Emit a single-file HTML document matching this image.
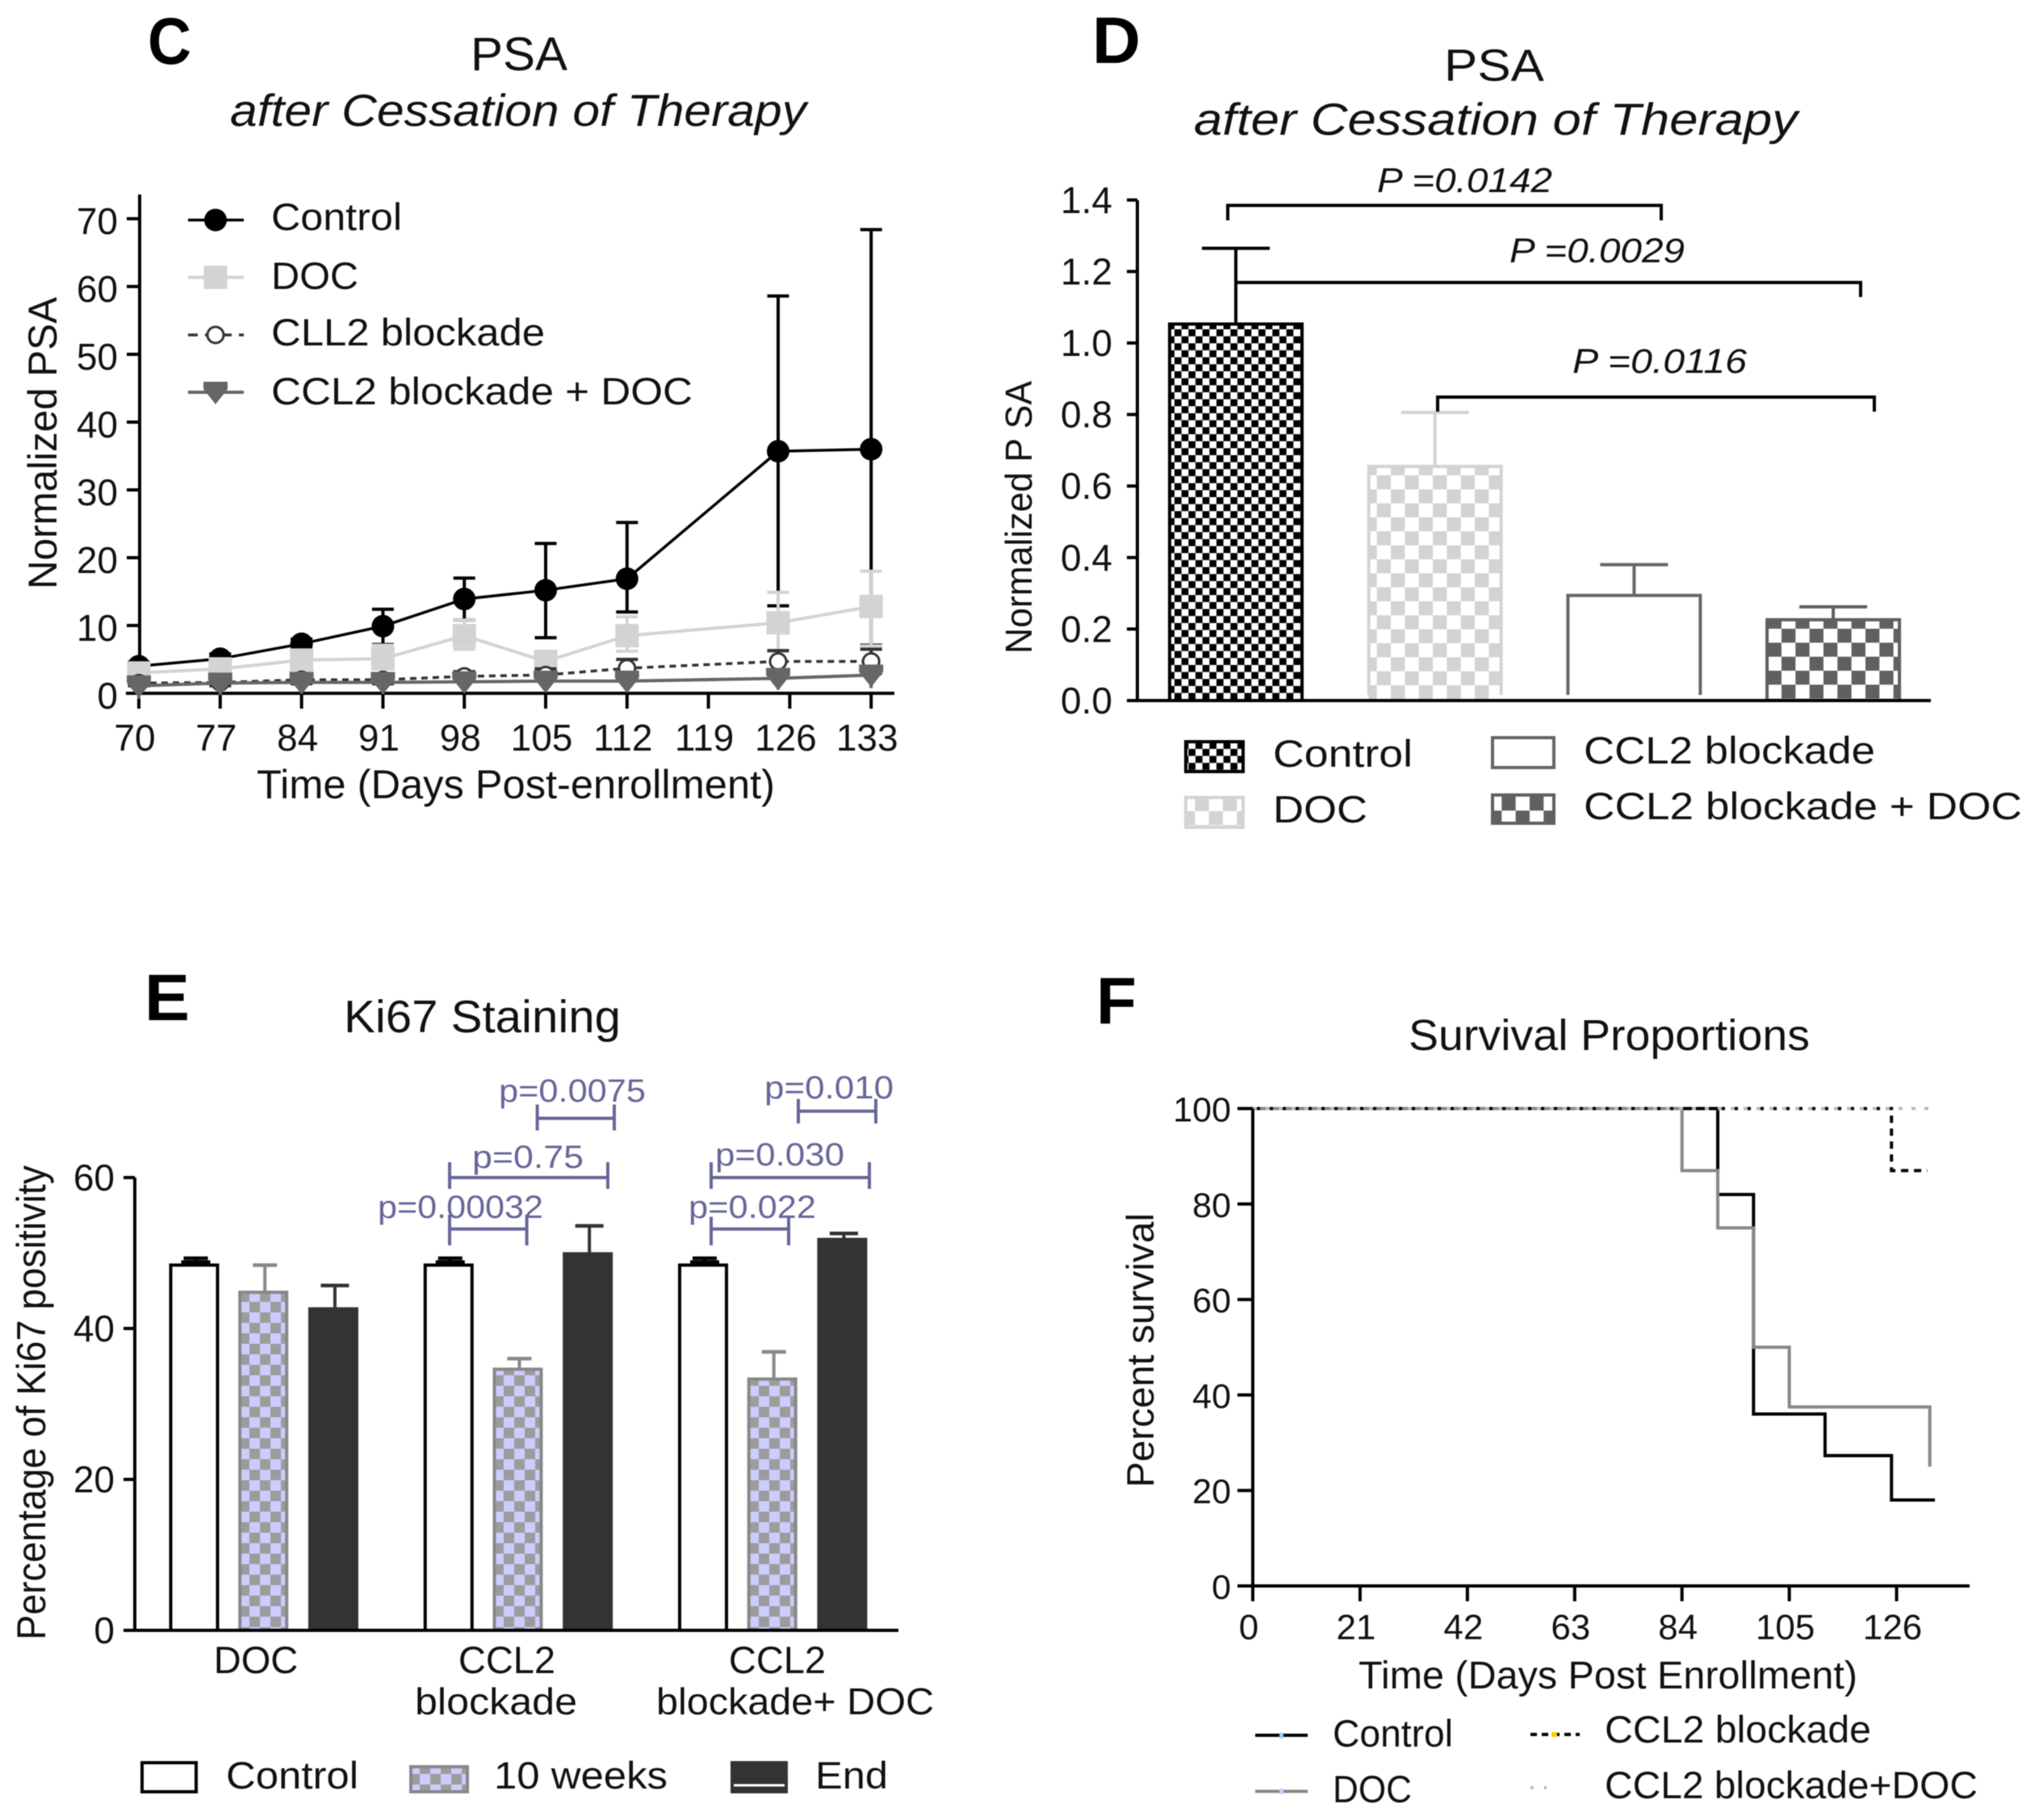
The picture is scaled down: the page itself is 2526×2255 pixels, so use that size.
<!DOCTYPE html>
<html lang="en">
<head>
<meta charset="utf-8">
<title>PSA, Ki67 and survival panels</title>
<style>
html,body{margin:0;padding:0;background:#fff;width:2526px;height:2255px;overflow:hidden}
svg{display:block;filter:blur(0.6px)}
text{font-family:"Liberation Sans",sans-serif;fill:#111}
.b{font-weight:bold;fill:#000}
.i{font-style:italic}
.p{fill:#666699}
</style>
</head>
<body>
<svg id="fig" xmlns="http://www.w3.org/2000/svg" width="2526" height="2255" viewBox="0 0 2526 2255">
<defs>
<pattern id="patCtl" patternUnits="userSpaceOnUse" x="1455" y="408" width="17.33" height="17.33"><rect width="17.33" height="17.33" fill="#fff"/><rect width="8.67" height="8.67" fill="#000"/><rect x="8.67" y="8.67" width="8.67" height="8.67" fill="#000"/></pattern>
<pattern id="patDoc" patternUnits="userSpaceOnUse" x="1705.7" y="589" width="34.67" height="34.67"><rect width="34.67" height="34.67" fill="#fff"/><rect width="17.33" height="17.33" fill="#d3d3d3"/><rect x="17.33" y="17.33" width="17.33" height="17.33" fill="#d3d3d3"/></pattern>
<pattern id="patCombo" patternUnits="userSpaceOnUse" x="2207" y="779" width="34.67" height="34.67"><rect width="34.67" height="34.67" fill="#fff"/><rect width="17.33" height="17.33" fill="#606060"/><rect x="17.33" y="17.33" width="17.33" height="17.33" fill="#606060"/></pattern>
<pattern id="patW0" patternUnits="userSpaceOnUse" x="309" y="1717" width="26" height="26"><rect width="26" height="26" fill="#ccccff"/><rect width="13" height="13" fill="#9c9c9c"/><rect x="13" y="13" width="13" height="13" fill="#9c9c9c"/></pattern>
<pattern id="patW1" patternUnits="userSpaceOnUse" x="624" y="1717" width="26" height="26"><rect width="26" height="26" fill="#ccccff"/><rect width="13" height="13" fill="#9c9c9c"/><rect x="13" y="13" width="13" height="13" fill="#9c9c9c"/></pattern>
<pattern id="patW2" patternUnits="userSpaceOnUse" x="940" y="1717" width="26" height="26"><rect width="26" height="26" fill="#ccccff"/><rect width="13" height="13" fill="#9c9c9c"/><rect x="13" y="13" width="13" height="13" fill="#9c9c9c"/></pattern>
</defs>

<!-- Panel C static text -->
<text class="b" x="183" y="79" font-size="82" textLength="54" lengthAdjust="spacingAndGlyphs">C</text>
<text x="583" y="87" font-size="58" textLength="120" lengthAdjust="spacingAndGlyphs">PSA</text>
<text class="i" x="285" y="156" font-size="56" textLength="714" lengthAdjust="spacingAndGlyphs">after Cessation of Therapy</text>
<text transform="translate(70,730) rotate(-90)" font-size="50" textLength="362" lengthAdjust="spacingAndGlyphs">Normalized PSA</text>
<text x="318" y="989" font-size="50" textLength="642" lengthAdjust="spacingAndGlyphs">Time (Days Post-enrollment)</text>
<text x="336" y="285" font-size="47" textLength="162" lengthAdjust="spacingAndGlyphs">Control</text>
<text x="336" y="358" font-size="47" textLength="108" lengthAdjust="spacingAndGlyphs">DOC</text>
<text x="336" y="428" font-size="47" textLength="339" lengthAdjust="spacingAndGlyphs">CLL2 blockade</text>
<text x="336" y="501" font-size="47" textLength="522" lengthAdjust="spacingAndGlyphs">CCL2 blockade + DOC</text>

<!-- Panel D static text -->
<text class="b" x="1353" y="78" font-size="82" textLength="60" lengthAdjust="spacingAndGlyphs">D</text>
<text x="1789" y="100" font-size="56" textLength="124" lengthAdjust="spacingAndGlyphs">PSA</text>
<text class="i" x="1479" y="167" font-size="56" textLength="748" lengthAdjust="spacingAndGlyphs">after Cessation of Therapy</text>
<text transform="translate(1278,810) rotate(-90)" font-size="46" textLength="338" lengthAdjust="spacingAndGlyphs">Normalized P SA</text>
<text class="i" x="1706" y="238" font-size="43" textLength="217" lengthAdjust="spacingAndGlyphs">P =0.0142</text>
<text class="i" x="1870" y="325" font-size="43" textLength="217" lengthAdjust="spacingAndGlyphs">P =0.0029</text>
<text class="i" x="1948" y="462" font-size="43" textLength="216" lengthAdjust="spacingAndGlyphs">P =0.0116</text>
<text x="1577" y="950" font-size="47" textLength="173" lengthAdjust="spacingAndGlyphs">Control</text>
<text x="1577" y="1019" font-size="47" textLength="117" lengthAdjust="spacingAndGlyphs">DOC</text>
<text x="1962" y="946" font-size="47" textLength="361" lengthAdjust="spacingAndGlyphs">CCL2 blockade</text>
<text x="1962" y="1015" font-size="47" textLength="543" lengthAdjust="spacingAndGlyphs">CCL2 blockade + DOC</text>

<!-- Panel E static text -->
<text class="b" x="179" y="1264" font-size="82" textLength="56" lengthAdjust="spacingAndGlyphs">E</text>
<text x="426" y="1279" font-size="57" textLength="343" lengthAdjust="spacingAndGlyphs">Ki67 Staining</text>
<text transform="translate(56,2032) rotate(-90)" font-size="50" textLength="588" lengthAdjust="spacingAndGlyphs">Percentage of Ki67 positivity</text>
<text x="280" y="2216" font-size="47" textLength="164" lengthAdjust="spacingAndGlyphs">Control</text>
<text x="612" y="2216" font-size="47" textLength="215" lengthAdjust="spacingAndGlyphs">10 weeks</text>
<text x="1010" y="2216" font-size="47" textLength="90" lengthAdjust="spacingAndGlyphs">End</text>

<!-- Panel F static text -->
<text class="b" x="1358" y="1268" font-size="82" textLength="50" lengthAdjust="spacingAndGlyphs">F</text>
<text x="1745" y="1301" font-size="54" textLength="497" lengthAdjust="spacingAndGlyphs">Survival Proportions</text>
<text transform="translate(1429,1843) rotate(-90)" font-size="47" textLength="340" lengthAdjust="spacingAndGlyphs">Percent survival</text>
<text x="1683" y="2092" font-size="48" textLength="618" lengthAdjust="spacingAndGlyphs">Time (Days Post Enrollment)</text>
<text x="1651" y="2164" font-size="47" textLength="149" lengthAdjust="spacingAndGlyphs">Control</text>
<text x="1651" y="2233" font-size="47" textLength="98" lengthAdjust="spacingAndGlyphs">DOC</text>
<text x="1988" y="2159" font-size="47" textLength="330" lengthAdjust="spacingAndGlyphs">CCL2 blockade</text>
<text x="1988" y="2228" font-size="47" textLength="462" lengthAdjust="spacingAndGlyphs">CCL2 blockade+DOC</text>
</svg>

<script>
// ---- Panel C data ----
const cDays = [70, 77, 84, 91, 98, 105, 112, 125, 133];
const cControlMean = [4.0, 5.1, 7.3, 9.9, 13.9, 15.2, 16.9, 35.7, 36.0];
const cControlHigh = [4.6, 5.8, 8.0, 12.4, 17.0, 22.1, 25.2, 58.6, 68.4];
const cControlLow = [3.4, 4.4, 6.6, 7.2, 10.8, 8.2, 12.0, 12.9, 7.1];
const cDocMean = [3.0, 3.6, 4.9, 5.1, 8.5, 4.7, 8.5, 10.4, 12.8];
const cDocHigh = [3.4, 4.2, 5.6, 7.1, 10.8, 5.4, 11.3, 14.9, 18.0];
const cDocLow = [2.6, 3.0, 4.2, 3.6, 6.5, 4.0, 6.2, 6.2, 7.0];
const cBlockMean = [1.5, 1.6, 2.0, 2.0, 2.5, 2.7, 3.7, 4.7, 4.7];
const cBlockHigh = [1.9, 2.1, 2.6, 2.6, 3.2, 3.6, 5.0, 6.3, 6.5];
const cBlockLow = [1.1, 1.1, 1.4, 1.4, 1.8, 1.9, 2.4, 3.1, 2.9];
const cComboMean = [1.1, 1.5, 1.6, 1.6, 1.7, 1.8, 1.8, 2.2, 2.7];
const cComboHigh = [1.4, 1.8, 2.0, 2.0, 2.1, 2.2, 2.3, 2.8, 3.4];
const cComboLow = [-0.6, 0.0, 0.2, 0.1, 0.4, 0.6, 0.7, 0.8, 1.0];
const cXTicks = [70, 77, 84, 91, 98, 105, 112, 119, 126, 133];
const cYTicks = [0, 10, 20, 30, 40, 50, 60, 70];

// ---- Panel D data ----
const dGroups = ['Control', 'DOC', 'CCL2 blockade', 'CCL2 blockade + DOC'];
const dMeans = [1.053, 0.655, 0.294, 0.226];
const dHighs = [1.265, 0.806, 0.380, 0.262];
const dYTicks = ['0.0', '0.2', '0.4', '0.6', '0.8', '1.0', '1.2', '1.4'];

// ---- Panel E data ----
const eTreatments = ['DOC', 'CCL2 blockade', 'CCL2 blockade+DOC'];
const eControlMean = [48.4, 48.4, 48.4];
const eControlHigh = [49.3, 49.3, 49.3];
const eWeeksMean = [44.8, 34.6, 33.3];
const eWeeksHigh = [48.4, 36.0, 36.9];
const eEndMean = [42.6, 49.9, 51.8];
const eEndHigh = [45.7, 53.6, 52.6];
const eYTicks = [0, 20, 40, 60];

// ---- Panel F data ----
const fControlDays = [91, 98, 112, 125, 133.5];
const fControlSurvival = [82, 36, 27.3, 18, 18];
const fDocDays = [84, 91, 98, 105, 132.5];
const fDocSurvival = [87, 75, 50, 37.5, 25];
const fBlockDays = [125, 132];
const fBlockSurvival = [87, 87];
const fComboDays = [133];
const fComboSurvival = [100];
const fXTicks = [0, 21, 42, 63, 84, 105, 126];
const fYTicks = [0, 20, 40, 60, 80, 100];

// ---- axis functions ----
const xC = d => 172 + 14.4 * (d - 70);
const yC = v => 859 - 8.4 * v;
const yD = v => 868 - 443 * v;
const xD = i => 1531 + 246.7 * i;
const yE = v => 2020 - 9.35 * v;
const xE = (g, s) => 240.5 + 315.25 * g + 85.7 * s + (s === 2 ? 1 : 0);
const xF = d => 1552 + 6.33 * d;
const yF = v => 1965 - 5.915 * v;

const svg = document.getElementById('fig');
const NS = 'http://www.w3.org/2000/svg';

function add(tag, attrs, name) {
  const el = document.createElementNS(NS, tag);
  for (const k in attrs) el.setAttribute(k, attrs[k]);
  
  
  svg.appendChild(el);
  return el;
}
function line(x1, y1, x2, y2, color, w, name, dash) {
  const a = { x1: x1, y1: y1, x2: x2, y2: y2, stroke: color, 'stroke-width': w };
  if (dash) a['stroke-dasharray'] = dash;
  return add('line', a, name);
}
function label(str, x, y, size, anchor, name) {
  const t = add('text', { x: x, y: y, 'font-size': size, 'text-anchor': anchor }, name);
  t.textContent = str;
  return t;
}
function polyline(xs, ys, color, w, name, dash) {
  const pts = xs.map((x, i) => x + ',' + ys[i]).join(' ');
  const a = { points: pts, fill: 'none', stroke: color, 'stroke-width': w };
  if (dash) a['stroke-dasharray'] = dash;
  return add('polyline', a, name);
}
function marker(kind, cx, cy, name) {
  if (kind === 'circle') add('circle', { cx: cx, cy: cy, r: 14, fill: '#000' }, name);
  if (kind === 'square') add('rect', { x: cx - 14.5, y: cy - 14.5, width: 29, height: 29, fill: '#d3d3d3' }, name);
  if (kind === 'open') add('circle', { cx: cx, cy: cy, r: 10, fill: '#fff', stroke: '#333', 'stroke-width': 3 }, name);
  if (kind === 'tri') add('polygon', { points: (cx - 15) + ',' + (cy - 13) + ' ' + (cx + 15) + ',' + (cy - 13) + ' ' + (cx + 15) + ',' + (cy - 4) + ' ' + cx + ',' + (cy + 15) + ' ' + (cx - 15) + ',' + (cy - 4), fill: '#666' }, name);
}

// ---- Panel C ----
function drawSeriesC(key, mean, high, low, color, w, kind, dash, capW) {
  cDays.forEach((d, i) => {
    const x = xC(d);
    line(x, yC(high[i]), x, yC(low[i]), color, 4, key + '-error-bar');
    line(x - capW / 2, yC(high[i]), x + capW / 2, yC(high[i]), color, 4, key + '-error-cap');
    line(x - capW / 2, yC(low[i]), x + capW / 2, yC(low[i]), color, 4, key + '-error-cap');
  });
  polyline(cDays.map(xC), mean.map(yC), color, w, key + '-line', dash);
  cDays.forEach((d, i) => marker(kind, xC(d), yC(mean[i]), key + '-point'));
}
line(173, 241, 173, 861, '#000', 4, 'panel-c-y-axis');
line(156, 859, 1108, 859, '#000', 4, 'panel-c-x-axis');
cYTicks.forEach(v => {
  line(157, yC(v), 173, yC(v), '#000', 4, 'panel-c-y-tick');
  label(String(v), 146, yC(v) + 19, 46, 'end', 'panel-c-y-tick-label');
});
cXTicks.forEach(d => {
  line(xC(d), 859, xC(d), 878, '#000', 4, 'panel-c-x-tick');
  label(String(d), xC(d) - 5, 930, 46, 'middle', 'panel-c-x-tick-label');
});
drawSeriesC('control', cControlMean, cControlHigh, cControlLow, '#000', 3.5, 'circle', null, 27);
drawSeriesC('doc', cDocMean, cDocHigh, cDocLow, '#d3d3d3', 4, 'square', null, 27);
drawSeriesC('blockade', cBlockMean, cBlockHigh, cBlockLow, '#333', 3.5, 'open', '8 6', 27);
drawSeriesC('combo', cComboMean, cComboHigh, cComboLow, '#666', 4, 'tri', null, 4);

// legend C
line(233, 272.6, 302, 272.6, '#000', 3.5, 'panel-c-legend-line-control');
marker('circle', 267, 272.6, 'panel-c-legend-marker-control');
line(233, 343.6, 302, 343.6, '#d3d3d3', 4, 'panel-c-legend-line-doc');
marker('square', 267, 343.6, 'panel-c-legend-marker-doc');
line(233, 415, 302, 415, '#333', 3.5, 'panel-c-legend-line-blockade', '12 9');
marker('open', 267, 415, 'panel-c-legend-marker-blockade');
line(233, 486, 302, 486, '#666', 4, 'panel-c-legend-line-combo');
marker('tri', 267, 486, 'panel-c-legend-marker-combo');

// ---- Panel D ----
const dFill = ['url(#patCtl)', 'url(#patDoc)', '#fff', 'url(#patCombo)'];
const dStroke = ['#000', '#d3d3d3', '#666', '#606060'];
dMeans.forEach((m, i) => {
  const c = xD(i), top = yD(m), hw = 82;
  line(c, yD(dHighs[i]), c, top, dStroke[i], 4, 'panel-d-error-bar');
  line(c - 42, yD(dHighs[i]), c + 42, yD(dHighs[i]), dStroke[i], 4, 'panel-d-error-cap');
  add('rect', { x: c - hw, y: top, width: hw * 2, height: yD(0) - top, fill: dFill[i] }, 'panel-d-bar-fill');
  const bottom = i === 2 || i === 1 ? yD(0) - 7 : yD(0);
  add('path', { d: 'M' + (c - hw) + ' ' + bottom + 'V' + top + 'H' + (c + hw) + 'V' + bottom, fill: 'none', stroke: dStroke[i], 'stroke-width': 4 }, 'panel-d-bar-outline');
});
line(1409, 248, 1409, 870, '#000', 4, 'panel-d-y-axis');
line(1396, 868, 2392, 868, '#000', 4, 'panel-d-x-axis');
dYTicks.forEach(s => {
  const v = parseFloat(s);
  line(1396, yD(v), 1409, yD(v), '#000', 4, 'panel-d-y-tick');
  label(s, 1378, yD(v) + 16, 46, 'end', 'panel-d-y-tick-label');
});
// significance brackets D
add('path', { d: 'M1521 273V254.5H2058V273', fill: 'none', stroke: '#000', 'stroke-width': 4 }, 'bracket-control-vs-blockade');
add('path', { d: 'M1531 350H2305V368', fill: 'none', stroke: '#000', 'stroke-width': 4 }, 'bracket-control-vs-combo');
add('path', { d: 'M1781 510V492H2322V510', fill: 'none', stroke: '#000', 'stroke-width': 4 }, 'bracket-doc-vs-combo');
// legend D
const dSwatches = [[1469, 919, 71, 37], [1469, 988, 71, 37], [1849, 914, 76, 37], [1849, 985, 76, 35]];
dSwatches.forEach((s, i) => {
  add('rect', { x: s[0], y: s[1], width: s[2], height: s[3], fill: dFill[i], stroke: dStroke[i], 'stroke-width': 4 }, 'panel-d-legend-swatch');
});

// ---- Panel E ----
function barE(g, s, mean, high, fill, stroke, errColor, capW) {
  const c = xE(g, s), hw = 29, top = yE(mean);
  line(c + 2, yE(high), c + 2, top, errColor, 4, 'panel-e-error-bar');
  line(c + 2 - capW / 2, yE(high), c + 2 + capW / 2, yE(high), errColor, 4.5, 'panel-e-error-cap');
  add('rect', { x: c - hw, y: top, width: hw * 2, height: yE(0) - top, fill: fill, stroke: stroke, 'stroke-width': 4 }, 'panel-e-bar');
}
eTreatments.forEach((name, g) => {
  barE(g, 0, eControlMean[g], eControlHigh[g], '#fff', '#000', '#000', 30);
  line(xE(g, 0) - 16, yE(eControlMean[g]) - 3, xE(g, 0) + 20, yE(eControlMean[g]) - 3, '#000', 6, 'panel-e-control-error-blob');
  barE(g, 1, eWeeksMean[g], eWeeksHigh[g], 'url(#patW' + g + ')', '#888', '#888', 30);
  barE(g, 2, eEndMean[g], eEndHigh[g], '#333', '#333', '#333', 35);
});
line(167, 1459, 167, 2022, '#000', 4, 'panel-e-y-axis');
line(153, 2020, 1113, 2020, '#000', 4, 'panel-e-x-axis');
eYTicks.forEach(v => {
  line(153, yE(v), 167, yE(v), '#000', 4, 'panel-e-y-tick');
  label(String(v), 142, yE(v) + 16, 46, 'end', 'panel-e-y-tick-label');
});
label('DOC', 317, 2073, 47, 'middle', 'panel-e-category-doc');
label('CCL2', 628, 2073, 47, 'middle', 'panel-e-category-blockade-line1');
const eCat2 = label('blockade', 514, 2124, 46, 'start', 'panel-e-category-blockade-line2');
eCat2.setAttribute('textLength', '201');
eCat2.setAttribute('lengthAdjust', 'spacingAndGlyphs');
label('CCL2', 963, 2073, 47, 'middle', 'panel-e-category-combo-line1');
const eCat3 = label('blockade+ DOC', 813, 2124, 46, 'start', 'panel-e-category-combo-line2');
eCat3.setAttribute('textLength', '344');
eCat3.setAttribute('lengthAdjust', 'spacingAndGlyphs');

// annotation brackets E
const eBrackets = [
  [665.6, 761, 1385.6, 1368.5, 1400.7],
  [557, 753, 1459, 1440, 1473],
  [557, 652.6, 1522.7, 1505, 1543],
  [989, 1085, 1376.7, 1361.6, 1392],
  [881, 1077, 1459, 1440, 1473],
  [881, 977, 1522.7, 1507.6, 1543]
];
eBrackets.forEach(b => {
  line(b[0], b[3], b[0], b[4], '#666699', 4, 'panel-e-bracket-tick');
  line(b[1], b[3], b[1], b[4], '#666699', 4, 'panel-e-bracket-tick');
  line(b[0], b[2], b[1], b[2], '#666699', 4, 'panel-e-bracket-line');
});
const ePLabels = [
  ['p=0.0075', 618, 1365, 182], ['p=0.75', 585, 1447, 138], ['p=0.00032', 468, 1509, 205],
  ['p=0.010', 947, 1361, 160], ['p=0.030', 886, 1444, 160], ['p=0.022', 853, 1509, 158]
];
ePLabels.forEach(p => {
  const t = label(p[0], p[1], p[2], 40, 'start', 'panel-e-p-value');
  t.setAttribute('class', 'p');
  t.setAttribute('textLength', p[3]);
  t.setAttribute('lengthAdjust', 'spacingAndGlyphs');
});
// legend E
add('rect', { x: 176, y: 2184, width: 67, height: 36, fill: '#fff', stroke: '#000', 'stroke-width': 4 }, 'panel-e-legend-swatch-control');
add('rect', { x: 509, y: 2189, width: 70, height: 31, fill: 'url(#patW1)', stroke: '#888', 'stroke-width': 4 }, 'panel-e-legend-swatch-10-weeks');
add('rect', { x: 907, y: 2184, width: 67, height: 36, fill: '#333', stroke: '#333', 'stroke-width': 4 }, 'panel-e-legend-swatch-end');
line(909, 2212, 972, 2212, '#fff', 3, 'panel-e-legend-swatch-end-stripe');

// ---- Panel F ----
function stepPath(days, vals) {
  let d = 'M' + xF(0) + ' ' + yF(100);
  days.forEach((day, i) => { d += 'H' + xF(day) + 'V' + yF(vals[i]); });
  return d;
}
add('path', { d: stepPath(fControlDays, fControlSurvival), fill: 'none', stroke: '#000', 'stroke-width': 4 }, 'survival-line-control');
add('path', { d: stepPath(fDocDays, fDocSurvival), fill: 'none', stroke: '#888', 'stroke-width': 4 }, 'survival-line-doc');
add('path', { d: stepPath(fBlockDays, fBlockSurvival), fill: 'none', stroke: '#000', 'stroke-width': 4, 'stroke-dasharray': '9 7' }, 'survival-line-blockade');
add('path', { d: stepPath(fComboDays, fComboSurvival), fill: 'none', stroke: '#bbb', 'stroke-width': 4, 'stroke-dasharray': '5 11' }, 'survival-line-combo');
line(xF(0), 1373.6, xF(0), 1984, '#000', 4, 'panel-f-y-axis');
line(1533, 1965, 2440, 1965, '#000', 4, 'panel-f-x-axis');
fYTicks.forEach(v => {
  line(1533, yF(v), xF(0), yF(v), '#000', 4, 'panel-f-y-tick');
  label(String(v), 1525, yF(v) + 16, 43, 'end', 'panel-f-y-tick-label');
});
fXTicks.forEach(d => {
  line(xF(d), 1965, xF(d), 1984, '#000', 4, 'panel-f-x-tick');
  label(String(d), xF(d) - 5, 2031, 44, 'middle', 'panel-f-x-tick-label');
});
// legend F
line(1555, 2150, 1620, 2150, '#000', 4, 'panel-f-legend-line-control');
add('rect', { x: 1585, y: 2147, width: 5, height: 7, fill: '#99ccff' }, 'panel-f-legend-marker-control');
line(1555, 2219.5, 1620, 2219.5, '#888', 4, 'panel-f-legend-line-doc');
add('rect', { x: 1585, y: 2216, width: 5, height: 7, fill: '#ccccff' }, 'panel-f-legend-marker-doc');
line(1896, 2149, 1957, 2149, '#000', 4, 'panel-f-legend-line-blockade', '8 6');
add('rect', { x: 1922, y: 2146, width: 7, height: 6, fill: '#ffcc00' }, 'panel-f-legend-marker-blockade');
line(1896, 2215, 1916, 2215, '#bbb', 4, 'panel-f-legend-line-combo', '4 13');
</script>
</body>
</html>
